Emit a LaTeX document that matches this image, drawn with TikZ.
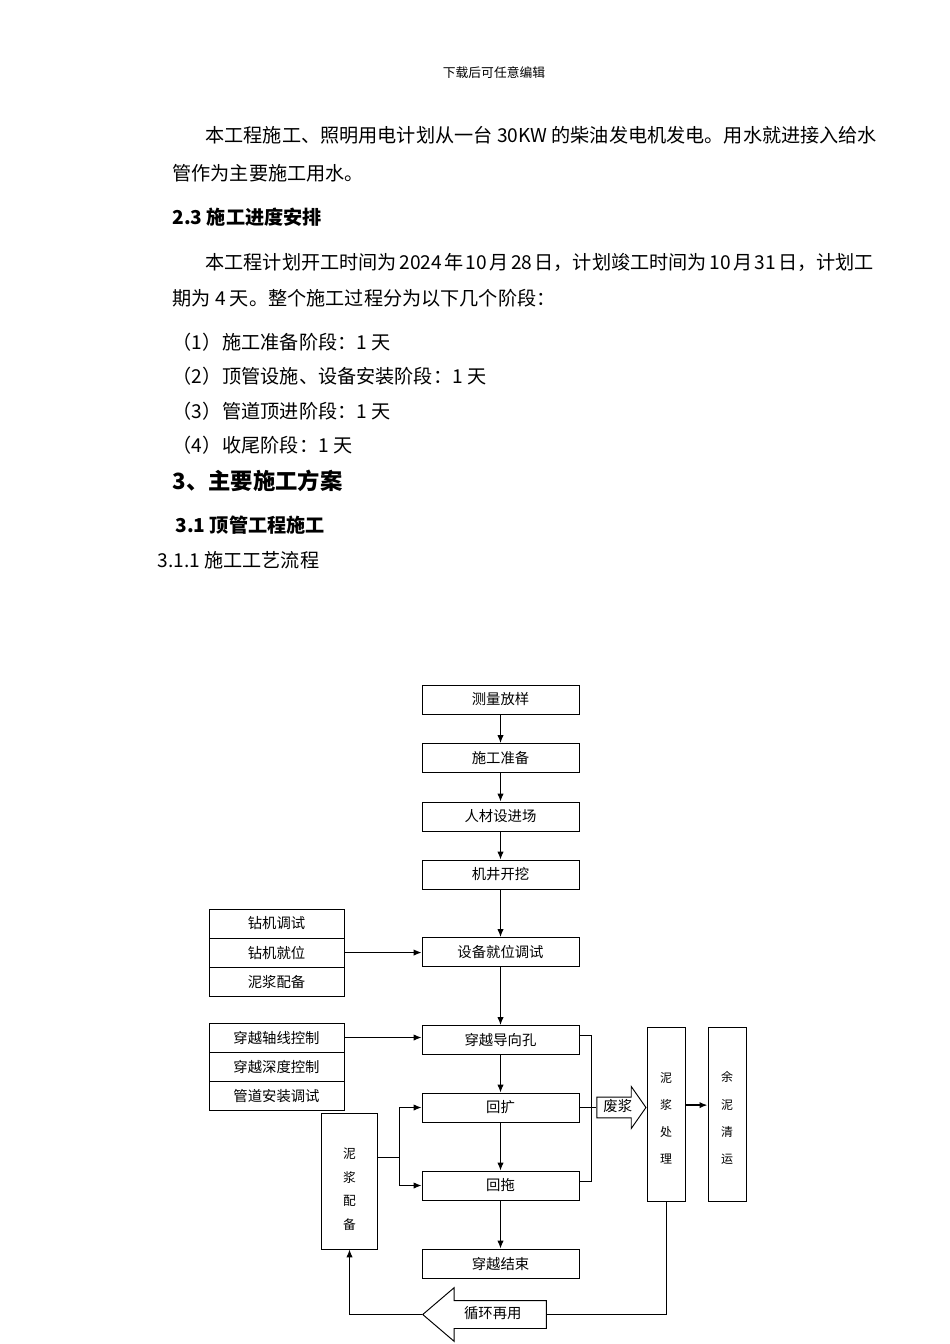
\documentclass[tikz,border=0pt]{standalone}
\usepackage{fontspec}
\setmainfont{Noto Sans CJK SC}
\usepackage{tikz}
\usetikzlibrary{arrows.meta}
\usetikzlibrary{positioning}
\usetikzlibrary{shapes.arrows}
\tikzstyle{process}=[draw,minimum width=98.4pt,minimum height=18.2pt,inner sep=1pt,font=\fontsize{9pt}{11pt}\selectfont]
\tikzstyle{option}=[process,minimum width=84.6pt,outer sep=0pt]
\tikzstyle{body}=[anchor=west,inner sep=0pt,font=\fontsize{12pt}{14pt}\selectfont]

\begin{document}
\begin{tikzpicture}[
  x=0.6266pt,y=-0.6266pt,
  line width=0.6pt,
  flow/.style={-{Latex[length=5pt,width=4pt]}},
  upright/.style={draw,align=center,inner sep=0pt},
  slurry/.style={upright,minimum width=35.1pt,minimum height=85.2pt,font=\fontsize{8pt}{14.7pt}\selectfont},
  plant/.style={upright,minimum width=23.8pt,minimum height=109pt,font=\fontsize{7.5pt}{17pt}\selectfont},
  block/.style={draw,single arrow,inner xsep=1pt,text height=7pt,text depth=1.5pt,font=\fontsize{9pt}{11pt}\selectfont},
  heading/.style={body,font=\fontsize{12pt}{14pt}\selectfont\bfseries},
]
\useasboundingbox (0,0) rectangle (950,1344);

% page text
\node[font=\fontsize{8pt}{10pt}\selectfont] (header) at (494,73) {下载后可任意编辑};
\node[body] (powera) at (205,135) {本工程施工、照明用电计划从一台 30KW 的柴油发电机发电。用水就进接入给水};
\node[body] (powerb) at (172,173) {管作为主要施工用水。};
\node[heading] (sec23) at (172,217) {2.3 施工进度安排};
\node[body] (plana) at (205,262) {本工程计划开工时间为\hspace{1.5pt}2024\hspace{1.5pt}年\hspace{1.5pt}10\hspace{1.5pt}月\hspace{1.5pt}28\hspace{1.5pt}日，计划竣工时间为\hspace{1.5pt}10\hspace{1.5pt}月\hspace{1.5pt}31\hspace{1.5pt}日，计划工};
\node[body] (planb) at (172,298) {期为 4 天。整个施工过程分为以下几个阶段：};
\node[body] (numa) at (172,342) {（1）};
\node[body] (stagea) at (222,342) {施工准备阶段：1 天};
\node[body] (numb) at (172,376) {（2）};
\node[body] (stageb) at (222,376) {顶管设施、设备安装阶段：1 天};
\node[body] (numc) at (172,411) {（3）};
\node[body] (stagec) at (222,411) {管道顶进阶段：1 天};
\node[body] (numd) at (172,445) {（4）};
\node[body] (staged) at (222,445) {收尾阶段：1 天};
\node[heading,font=\fontsize{14pt}{16pt}\selectfont\bfseries] (sec3) at (172,481) {3、主要施工方案};
\node[heading] (sec31) at (175,525) {3.1 顶管工程施工};
\node[body] (sec311) at (157,560) {3.1.1 施工工艺流程};

% main column
\node[process] (survey) at (500.5,699.5) {测量放样};
\node[process] (prepare) at (500.5,758) {施工准备};
\node[process] (mobilize) at (500.5,816.5) {人材设进场};
\node[process] (pit) at (500.5,874.5) {机井开挖};
\node[process] (setup) at (500.5,952) {设备就位调试};
\node[process] (pilot) at (500.5,1040) {穿越导向孔};
\node[process] (ream) at (500.5,1107.5) {回扩};
\node[process] (pull) at (500.5,1185.5) {回拖};
\node[process] (finish) at (500.5,1263.5) {穿越结束};

% side lists
\node[option] (rigtest) at (276.5,923.5) {钻机调试};
\node[option,below=0pt of rigtest] (rigplace) {钻机就位};
\node[option,below=0pt of rigplace] (mudmix) {泥浆配备};
\node[option] (axis) at (276.5,1037.5) {穿越轴线控制};
\node[option,below=0pt of axis] (depth) {穿越深度控制};
\node[option,below=0pt of depth] (pipeline) {管道安装调试};

% slurry loop
\node[slurry] (mud) at (349.5,1181) {\rule{0pt}{17pt}泥\\浆\\配\\备};
\node[plant] (treat) at (666,1114) {\rule{0pt}{11.5pt}泥\\浆\\处\\理};
\node[plant] (haul) at (727,1114) {\rule{0pt}{11.5pt}余\\泥\\清\\运};
\node[block,anchor=tip,inner ysep=2pt,minimum height=30.7pt,
  single arrow head extend=6.6pt,single arrow tip angle=110] (waste) at (treat.west |- ream) {废浆};
\node[block,anchor=tip,shape border rotate=180,inner ysep=4.2pt,minimum height=77.5pt,
  single arrow head extend=8.1pt,single arrow tip angle=81] (reuse) at (422,1314.5) {循环再用};

\foreach \a/\b in {survey/prepare,prepare/mobilize,mobilize/pit,pit/setup,setup/pilot,pilot/ream,ream/pull,pull/finish}
  \draw[flow] (\a) -- (\b);
\draw[flow] (rigplace.east) -- (rigplace.east -| setup.west);
\draw[flow] (axis.east) -- (axis.east -| pilot.west);

\coordinate (fork) at (399,1157);
\draw (mud.east |- fork) -- (fork);
\draw[flow] (fork) |- (ream.west);
\draw[flow] (fork) |- (pull.west);

\coordinate (collect) at ([xshift=7.5pt]ream.east);
\draw ([yshift=3pt]pilot.east) -| (collect) |- ([yshift=2.8pt]pull.east);
\draw (ream.east) -- (waste.tail);
\draw[flow,line width=1pt] ([yshift=1.5pt]treat.east |- waste.tip) -- ([yshift=1.5pt]haul.west |- waste.tip);
\draw (treat.south) |- (reuse.tail);
\draw[flow] (reuse.tip) -| (mud.south);
\end{tikzpicture}
\end{document}
